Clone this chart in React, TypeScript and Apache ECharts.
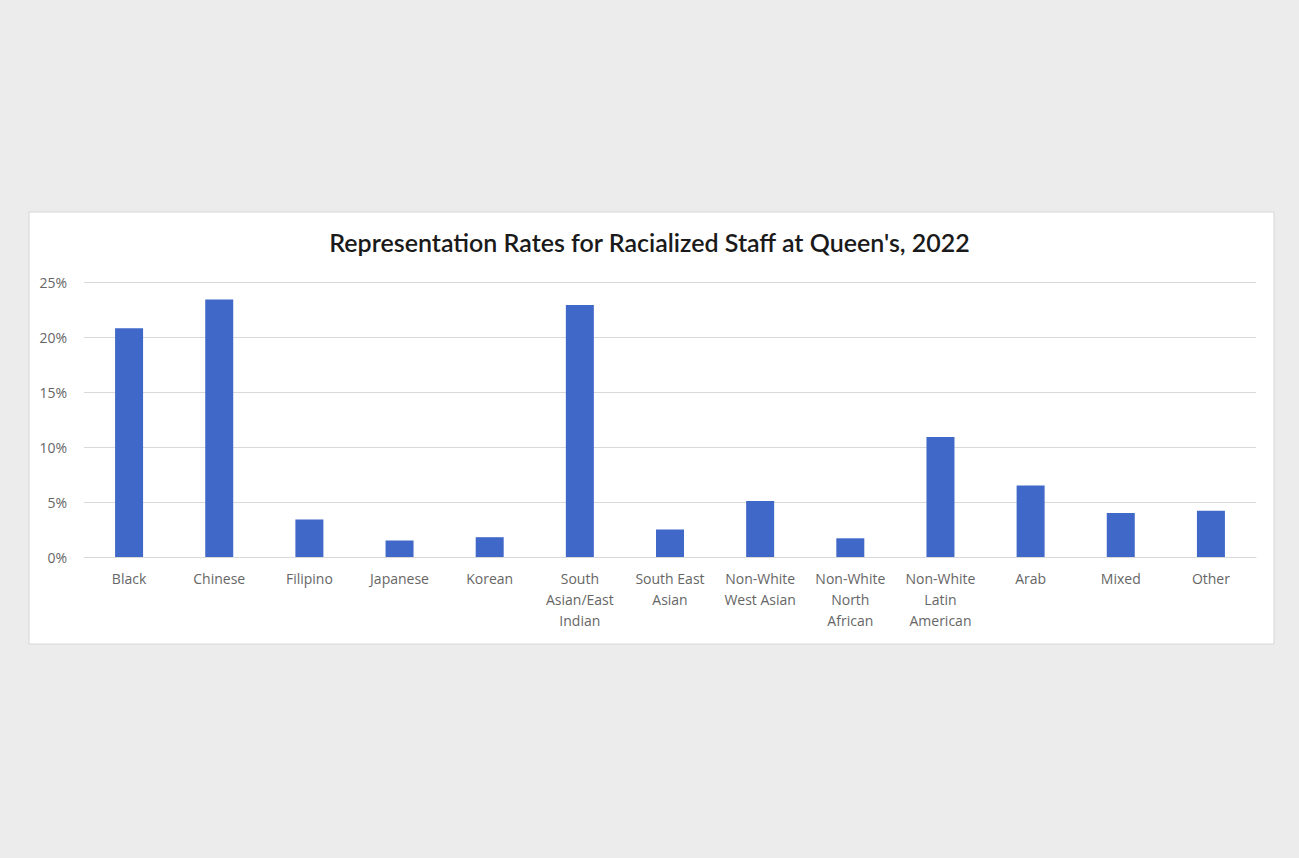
import React, { useEffect, useRef } from "react";
import * as echarts from "echarts";

const categories = [
  "Black",
  "Chinese",
  "Filipino",
  "Japanese",
  "Korean",
  "South\nAsian/East\nIndian",
  "South East\nAsian",
  "Non-White\nWest Asian",
  "Non-White\nNorth\nAfrican",
  "Non-White\nLatin\nAmerican",
  "Arab",
  "Mixed",
  "Other",
];
const values = [20.8, 23.4, 3.4, 1.5, 1.8, 22.9, 2.5, 5.1, 1.7, 10.9, 6.5, 4.0, 4.2];
const titleText = "Representation Rates for Racialized Staff at Queen's, 2022";

export default function App() {
  const ref = useRef<HTMLDivElement>(null);
  useEffect(() => {
    if (!ref.current) return;
    const chart = echarts.init(ref.current, undefined, { renderer: "svg" });
    chart.setOption({
      animation: false,
      backgroundColor: "#ececec",
      graphic: [
        {
          type: "rect",
          z: -10,
          shape: { x: 29, y: 212, width: 1245, height: 432 },
          style: { fill: "#ffffff", stroke: "#d6d6d6", lineWidth: 1 },
        },
      ],
      title: {
        text: titleText,
        left: "center",
        top: 224,
        textStyle: {
          fontFamily: "Lato, 'Open Sans', sans-serif",
          fontSize: 25,
          fontWeight: 600,
          color: "#1a1a1a",
        },
      },
      grid: { left: 84, right: 43, top: 282, bottom: 301 },
      xAxis: {
        type: "category",
        data: categories,
        axisLine: { lineStyle: { color: "#d9d9d9" } },
        axisTick: { show: false },
        axisLabel: {
          interval: 0,
          color: "#666666",
          fontFamily: "'Open Sans', sans-serif",
          fontSize: 14,
          lineHeight: 21,
          margin: 11,
        },
      },
      yAxis: {
        type: "value",
        min: 0,
        max: 25,
        interval: 5,
        axisLabel: {
          formatter: "{value}%",
          color: "#666666",
          fontFamily: "'Open Sans', sans-serif",
          fontSize: 14,
          margin: 17,
        },
        axisLine: { show: false },
        axisTick: { show: false },
        splitLine: { lineStyle: { color: "#d9d9d9" } },
      },
      series: [
        {
          type: "bar",
          data: values,
          barWidth: 28,
          itemStyle: { color: "#4068c8" },
        },
      ],
    });
    return () => chart.dispose();
  }, []);
  return (
    <div
      ref={ref}
      style={{ position: "fixed", left: 0, top: 0, width: 1299, height: 858 }}
    />
  );
}
